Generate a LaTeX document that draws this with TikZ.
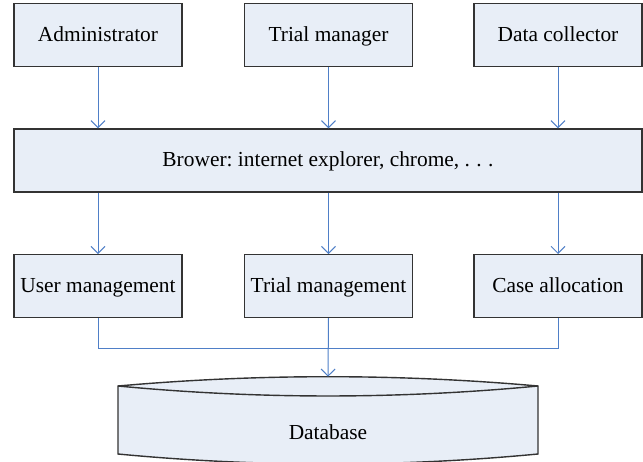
\documentclass[tikz,border=0pt]{standalone}
\usepackage{fontspec}
\setmainfont{Liberation Serif}
\usetikzlibrary{arrows.meta}
\definecolor{boxfill}{HTML}{E8EEF7}
\definecolor{boxline}{HTML}{333333}
\definecolor{linkblue}{HTML}{4F7FC7}
\frenchspacing
\begin{document}
\begin{tikzpicture}[x=0.5pt,y=-0.5pt,
  lbl/.style={font=\fontsize{10.7}{13}\selectfont,text height=7pt,text depth=1pt},
  box/.style={lbl,draw=boxline,fill=boxfill,line width=0.7pt,minimum width=84pt,minimum height=31.3pt,inner sep=0pt},
  link/.style={draw=linkblue,line width=0.5pt},
  arr/.style={link,-{Straight Barb[length=3.5pt,width=7pt,line width=0.5pt]}}]
\useasboundingbox (0,0) rectangle (643,461);
% top row
\node[box] (adm) at (98,35) {Administrator};
\node[box] (tmg) at (328.5,35) {Trial manager};
\node[box] (dc)  at (558,35) {Data collector};
% browser
\node[box,minimum width=314pt,minimum height=31.5pt] (br) at (328,160.5) {\frenchspacing Brower: internet explorer, chrome, .\hspace{0.3em}.\hspace{0.3em}.};
% bottom row
\node[box] (um) at (98,286) {User management};
\node[box] (tm) at (328.5,286) {Trial management};
\node[box] (ca) at (558,286) {Case allocation};
% database
\draw[draw=boxline,fill=boxfill,line width=0.7pt]
  (118,386) .. controls (258,373.6) and (398,373.6) .. (538,386)
  -- (538,454) .. controls (398,467.3) and (258,467.3) .. (118,454) -- cycle;
\draw[draw=boxline,line width=0.7pt]
  (118,386) .. controls (258,399.3) and (398,399.3) .. (538,386);
\node[lbl] (db) at (328,433) {Database};
\coordinate (dbtop) at (328,376.7);
\coordinate (join) at (328,348.7);
% connectors
\draw[arr] (adm.south) -- (adm.south |- br.north);
\draw[arr] (tmg.south) -- (tmg.south |- br.north);
\draw[arr] (dc.south) -- (dc.south |- br.north);
\draw[arr] (br.south -| um.north) -- (um.north);
\draw[arr] (br.south -| tm.north) -- (tm.north);
\draw[arr] (br.south -| ca.north) -- (ca.north);
\draw[link] (um.south) |- (join);
\draw[link] (ca.south) |- (join);
\draw[arr] (tm.south) -- (dbtop);
\end{tikzpicture}
\end{document}
